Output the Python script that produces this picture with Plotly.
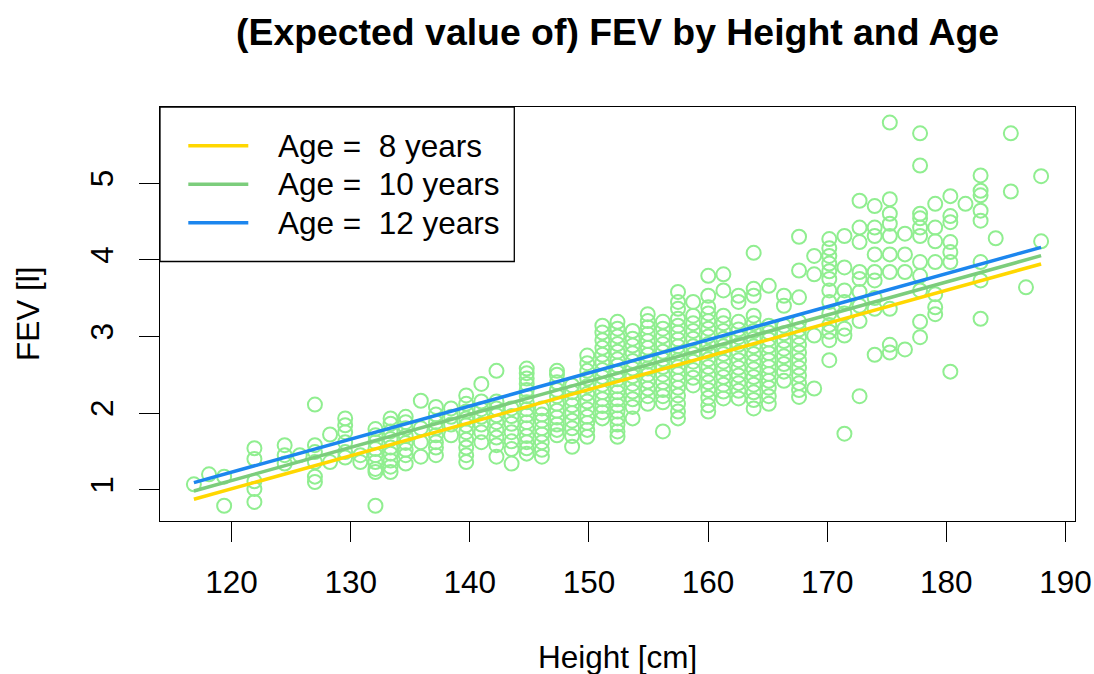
import plotly.graph_objects as go

# Measured heights (cm) grouped by column, with the FEV (litres) observed at each
column_heights = [
    116.84, 118.11, 119.38, 121.92, 124.46, 125.73, 127.00, 128.27, 129.54, 130.81,
    132.08, 133.35, 134.62, 135.89, 137.16, 138.43, 139.70, 140.97, 142.24, 143.51,
    144.78, 146.05, 147.32, 148.59, 149.86, 151.13, 152.40, 153.67, 154.94, 156.21,
    157.48, 158.75, 160.02, 161.29, 162.56, 163.83, 165.10, 166.37, 167.64, 168.91,
    170.18, 171.45, 172.72, 173.99, 175.26, 176.53, 177.80, 179.07, 180.34, 181.61,
    182.88, 184.15, 185.42, 186.69, 187.96,
]
column_fev = [
    [1.07],
    [1.20],
    [1.17, 0.79],
    [1.54, 1.40, 1.11, 1.01, 0.84],
    [1.58, 1.45, 1.34],
    [1.45],
    [2.11, 1.58, 1.49, 1.36, 1.17, 1.10],
    [1.72, 1.36],
    [1.93, 1.84, 1.75, 1.62, 1.49, 1.42],
    [1.45, 1.36],
    [1.79, 1.71, 1.62, 1.53, 1.45, 1.36, 1.27, 1.23, 0.79],
    [1.93, 1.86, 1.76, 1.66, 1.55, 1.47, 1.38, 1.30, 1.23],
    [1.95, 1.88, 1.80, 1.70, 1.61, 1.52, 1.45, 1.34],
    [2.16, 1.80, 1.62, 1.43],
    [2.08, 1.98, 1.88, 1.80, 1.71, 1.62, 1.55, 1.45],
    [2.06, 1.95, 1.85, 1.71],
    [2.23, 2.12, 2.02, 1.93, 1.84, 1.75, 1.65, 1.55, 1.45, 1.36],
    [2.38, 2.15, 2.05, 1.95, 1.85, 1.75, 1.62],
    [2.55, 2.15, 2.06, 1.97, 1.88, 1.78, 1.68, 1.58, 1.43],
    [2.06, 1.96, 1.86, 1.75, 1.63, 1.53, 1.34],
    [2.58, 2.52, 2.45, 2.38, 2.30, 2.22, 2.14, 2.05, 1.97, 1.88, 1.80, 1.70, 1.62, 1.54, 1.47],
    [2.06, 1.98, 1.90, 1.80, 1.72, 1.62, 1.52, 1.43],
    [2.55, 2.50, 2.40, 2.30, 2.22, 2.12, 2.03, 1.94, 1.85, 1.78, 1.71],
    [2.36, 2.27, 2.18, 2.10, 2.00, 1.90, 1.80, 1.70, 1.56],
    [2.75, 2.65, 2.55, 2.45, 2.35, 2.25, 2.15, 2.05, 1.95, 1.87, 1.78, 1.69],
    [3.14, 3.05, 2.95, 2.85, 2.76, 2.66, 2.56, 2.47, 2.37, 2.27, 2.18, 2.09, 2.01, 1.93],
    [3.19, 3.10, 3.00, 2.90, 2.80, 2.70, 2.62, 2.53, 2.44, 2.35, 2.27, 2.18, 2.10, 2.02,
     1.93, 1.85, 1.76, 1.69],
    [3.07, 2.97, 2.88, 2.78, 2.68, 2.58, 2.48, 2.38, 2.28, 2.18, 2.08, 1.93],
    [3.29, 3.20, 3.12, 3.03, 2.94, 2.85, 2.76, 2.67, 2.58, 2.50, 2.41, 2.32, 2.22, 2.12],
    [3.19, 3.10, 3.00, 2.90, 2.80, 2.70, 2.60, 2.50, 2.40, 2.30, 2.22, 2.14, 1.76],
    [3.58, 3.45, 3.36, 3.23, 3.14, 3.05, 2.96, 2.87, 2.78, 2.69, 2.60, 2.51, 2.42, 2.33,
     2.23, 2.12, 2.02, 1.93],
    [3.45, 3.27, 3.17, 3.07, 2.97, 2.87, 2.77, 2.67, 2.56, 2.46, 2.36],
    [3.79, 3.53, 3.38, 3.30, 3.20, 3.10, 3.00, 2.90, 2.80, 2.70, 2.60, 2.50, 2.40, 2.30,
     2.20, 2.10, 2.02],
    [3.81, 3.60, 3.27, 3.17, 3.07, 2.97, 2.87, 2.77, 2.67, 2.57, 2.47, 2.37, 2.28, 2.19],
    [3.53, 3.45, 3.19, 3.09, 2.99, 2.89, 2.79, 2.69, 2.59, 2.49, 2.39, 2.29, 2.19],
    [4.09, 3.62, 3.53, 3.27, 3.17, 3.07, 2.97, 2.87, 2.77, 2.67, 2.57, 2.47, 2.37, 2.27,
     2.17, 2.06],
    [3.66, 3.14, 3.05, 2.96, 2.87, 2.78, 2.69, 2.60, 2.51, 2.42, 2.33, 2.22, 2.12],
    [3.53, 3.40, 3.14, 3.04, 2.94, 2.84, 2.74, 2.64, 2.54, 2.42],
    [4.30, 3.86, 3.51, 3.19, 3.09, 2.99, 2.89, 2.79, 2.69, 2.59, 2.49, 2.39, 2.30, 2.21],
    [4.05, 3.81, 3.01, 2.32],
    [4.27, 4.15, 4.05, 3.95, 3.85, 3.75, 3.60, 3.45, 3.30, 3.15, 3.06, 2.95, 2.69],
    [4.31, 3.90, 3.60, 3.45, 3.30, 3.10, 3.01, 1.73],
    [4.77, 4.42, 4.23, 3.84, 3.75, 3.58, 3.40, 3.20, 2.22],
    [4.70, 4.42, 4.31, 4.07, 3.84, 3.73, 3.50, 3.36, 2.76],
    [5.79, 4.79, 4.60, 4.47, 4.31, 4.07, 3.84, 3.36, 2.89, 2.79],
    [4.34, 4.07, 3.84, 2.83],
    [5.65, 5.23, 4.60, 4.54, 4.42, 4.31, 3.97, 3.79, 3.60, 3.19, 2.99],
    [4.73, 4.42, 4.24, 3.97, 3.55, 3.38, 3.29],
    [4.83, 4.57, 4.49, 4.23, 4.10, 3.97, 2.54],
    [4.73],
    [5.10, 4.90, 4.84, 4.64, 4.51, 3.97, 3.73, 3.23],
    [4.28],
    [5.65, 4.89],
    [3.64],
    [5.09, 4.24],
]

# Fitted FEV at the ends of the height range for three ages
line_heights = [116.84, 187.96]
fit_ages = [8, 10, 12]
fit_fev = [
    [0.874, 3.945],
    [0.983, 4.053],
    [1.091, 4.162],
]
fit_colors = ["#FFD700", "#7CCD7C", "#1C86EE"]

x_ticks = [120, 130, 140, 150, 160, 170, 180, 190]
y_ticks = [1, 2, 3, 4, 5]

heights = [h for h, vals in zip(column_heights, column_fev) for _ in vals]
fevs = [v for vals in column_fev for v in vals]

FONT = "Liberation Sans, Arial, Helvetica, sans-serif"
TXT = 31.5

fig = go.Figure()
fig.add_trace(go.Scatter(
    x=heights, y=fevs, mode="markers",
    marker=dict(symbol="circle-open", size=14, color="#90EE90",
                line=dict(width=2, color="#90EE90")),
    showlegend=False, hoverinfo="skip",
))
for age, vals, col in zip(fit_ages, fit_fev, fit_colors):
    fig.add_trace(go.Scatter(
        x=line_heights, y=vals, mode="lines",
        line=dict(color=col, width=3.5), showlegend=False,
        name=f"Age =  {age} years",
    ))

# Plot-area geometry (px) used to place the legend box and titles
L, R, T, B = 160, 19, 107, 153
W, H = 1094, 674
pw, ph = W - L - R, H - T - B


def px_x(x):
    return (x - L) / pw


def px_y(y):
    return (H - B - y) / ph


shapes = [dict(type="rect", xref="paper", yref="paper",
               x0=px_x(L), x1=px_x(514.3), y0=px_y(261.5), y1=1,
               line=dict(color="black", width=1.3), fillcolor="white", layer="above")]
annotations = []
for i, (age, col) in enumerate(zip(fit_ages, fit_colors)):
    yy = px_y(145.7 + i * 38.5)
    shapes.append(dict(type="line", xref="paper", yref="paper",
                       x0=px_x(188.3), x1=px_x(248.3), y0=yy, y1=yy,
                       line=dict(color=col, width=3.5), layer="above"))
    annotations.append(dict(xref="paper", yref="paper", x=px_x(276), y=yy,
                            xanchor="left", yanchor="middle", showarrow=False,
                            text=f"Age =  {age} years",
                            font=dict(family=FONT, size=TXT, color="black")))

annotations += [
    dict(xref="paper", yref="paper", x=0.5, y=px_y(32), xanchor="center", yanchor="middle",
         showarrow=False, text="<b>(Expected value of) FEV by Height and Age</b>",
         font=dict(family=FONT, size=37.4, color="black")),
    dict(xref="paper", yref="paper", x=0.5, y=px_y(657), xanchor="center", yanchor="middle",
         showarrow=False, text="Height [cm]",
         font=dict(family=FONT, size=TXT, color="black")),
    dict(xref="paper", yref="paper", x=px_x(28), y=0.5, xanchor="center", yanchor="middle",
         showarrow=False, text="FEV [l]", textangle=-90,
         font=dict(family=FONT, size=TXT, color="black")),
]

axis_common = dict(showgrid=False, zeroline=False, showline=True, linecolor="black",
                   linewidth=1.3, mirror=True, ticks="outside", ticklen=20, tickwidth=1.3,
                   tickcolor="black", automargin=False,
                   tickfont=dict(family=FONT, size=TXT, color="black"))

fig.update_layout(
    width=W, height=H, margin=dict(l=L, r=R, t=T, b=B),
    paper_bgcolor="white", plot_bgcolor="white",
    xaxis=dict(range=[113.995, 190.805], tickvals=x_ticks, ticklabelstandoff=13, **axis_common),
    yaxis=dict(range=[0.591, 5.993], tickvals=y_ticks, tickangle=-90,
               ticklabelstandoff=13, **axis_common),
    shapes=shapes, annotations=annotations, showlegend=False,
)

fig.write_html("out.html")
